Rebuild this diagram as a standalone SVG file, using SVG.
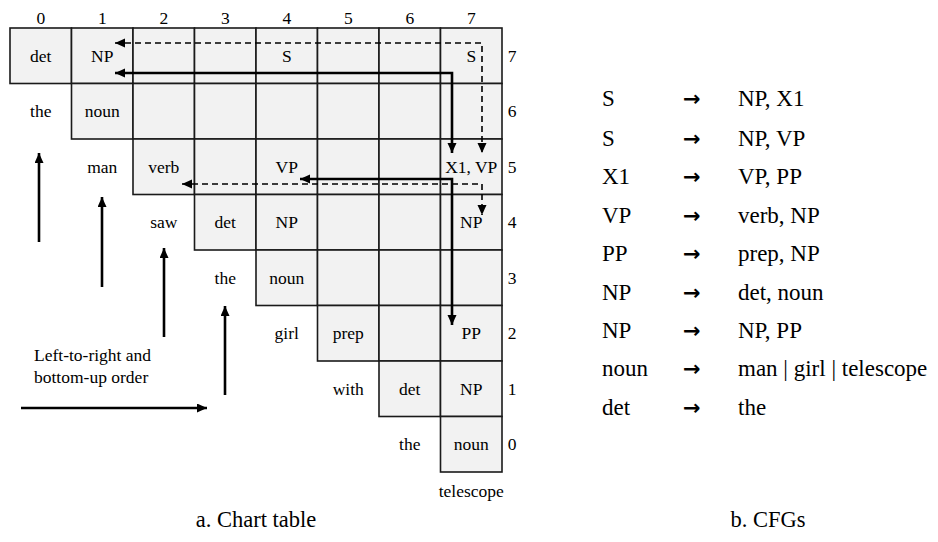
<svg xmlns="http://www.w3.org/2000/svg" width="938" height="542" viewBox="0 0 938 542">
  <style>
    .cell { fill: #f2f2f2; stroke: #1a1a1a; stroke-width: 1.6; }
    text { font-family: "Liberation Serif", Tinos, "DejaVu Serif", serif; fill: #000; }
    .t { font-size: 17.5px; text-anchor: middle; }
    .tl { font-size: 17.5px; }
    .rule { font-size: 23px; }
    .arr { font-family: "DejaVu Sans", sans-serif; font-size: 21px; font-weight: bold; }
    .cap { font-size: 22.5px; text-anchor: middle; }
    .solid { fill: none; stroke: #000; stroke-width: 2.6; }
    .dash { fill: none; stroke: #000; stroke-width: 1.6; stroke-dasharray: 6 4; }
  </style>
  <defs>
    <marker id="head" markerUnits="userSpaceOnUse" markerWidth="11" markerHeight="10" refX="10" refY="4.5" orient="auto-start-reverse">
      <path d="M0,0 L10,4.5 L0,9 z" fill="#000"/>
    </marker>
  </defs>
  <rect width="938" height="542" fill="#fff"/>

  <!-- column indices -->
  <g id="col-index">
    <text class="t" x="40.75" y="24">0</text>
    <text class="t" x="102.25" y="24">1</text>
    <text class="t" x="163.75" y="24">2</text>
    <text class="t" x="225.25" y="24">3</text>
    <text class="t" x="286.75" y="24">4</text>
    <text class="t" x="348.25" y="24">5</text>
    <text class="t" x="409.75" y="24">6</text>
    <text class="t" x="471.25" y="24">7</text>
  </g>

  <!-- row indices -->
  <g id="row-index">
    <text class="t" x="512" y="61.75">7</text>
    <text class="t" x="512" y="117.25">6</text>
    <text class="t" x="512" y="172.75">5</text>
    <text class="t" x="512" y="228.25">4</text>
    <text class="t" x="512" y="283.75">3</text>
    <text class="t" x="512" y="339.25">2</text>
    <text class="t" x="512" y="394.75">1</text>
    <text class="t" x="512" y="450.25">0</text>
  </g>

  <!-- chart row 7 -->
  <g id="r7">
    <g id="r7c0"><rect class="cell" x="10" y="28" width="61.5" height="55.5"/><text class="t" x="40.75" y="61.75">det</text></g>
    <g id="r7c1"><rect class="cell" x="71.5" y="28" width="61.5" height="55.5"/><text class="t" x="102.25" y="61.75">NP</text></g>
    <g id="r7c2"><rect class="cell" x="133" y="28" width="61.5" height="55.5"/></g>
    <g id="r7c3"><rect class="cell" x="194.5" y="28" width="61.5" height="55.5"/></g>
    <g id="r7c4"><rect class="cell" x="256" y="28" width="61.5" height="55.5"/><text class="t" x="286.75" y="61.75">S</text></g>
    <g id="r7c5"><rect class="cell" x="317.5" y="28" width="61.5" height="55.5"/></g>
    <g id="r7c6"><rect class="cell" x="379" y="28" width="61.5" height="55.5"/></g>
    <g id="r7c7"><rect class="cell" x="440.5" y="28" width="61.5" height="55.5"/><text class="t" x="471.25" y="61.75">S</text></g>
  </g>

  <!-- chart row 6 -->
  <g id="r6">
    <g id="w-the1"><text class="t" x="40.75" y="117.25">the</text></g>
    <g id="r6c1"><rect class="cell" x="71.5" y="83.5" width="61.5" height="55.5"/><text class="t" x="102.25" y="117.25">noun</text></g>
    <g id="r6c2"><rect class="cell" x="133" y="83.5" width="61.5" height="55.5"/></g>
    <g id="r6c3"><rect class="cell" x="194.5" y="83.5" width="61.5" height="55.5"/></g>
    <g id="r6c4"><rect class="cell" x="256" y="83.5" width="61.5" height="55.5"/></g>
    <g id="r6c5"><rect class="cell" x="317.5" y="83.5" width="61.5" height="55.5"/></g>
    <g id="r6c6"><rect class="cell" x="379" y="83.5" width="61.5" height="55.5"/></g>
    <g id="r6c7"><rect class="cell" x="440.5" y="83.5" width="61.5" height="55.5"/></g>
  </g>

  <!-- chart row 5 -->
  <g id="r5">
    <g id="w-man"><text class="t" x="102.25" y="172.75">man</text></g>
    <g id="r5c2"><rect class="cell" x="133" y="139" width="61.5" height="55.5"/><text class="t" x="163.75" y="172.75">verb</text></g>
    <g id="r5c3"><rect class="cell" x="194.5" y="139" width="61.5" height="55.5"/></g>
    <g id="r5c4"><rect class="cell" x="256" y="139" width="61.5" height="55.5"/><text class="t" x="286.75" y="172.75">VP</text></g>
    <g id="r5c5"><rect class="cell" x="317.5" y="139" width="61.5" height="55.5"/></g>
    <g id="r5c6"><rect class="cell" x="379" y="139" width="61.5" height="55.5"/></g>
    <g id="r5c7"><rect class="cell" x="440.5" y="139" width="61.5" height="55.5"/><text class="t" x="471.25" y="172.75">X1, VP</text></g>
  </g>

  <!-- chart row 4 -->
  <g id="r4">
    <g id="w-saw"><text class="t" x="163.75" y="228.25">saw</text></g>
    <g id="r4c3"><rect class="cell" x="194.5" y="194.5" width="61.5" height="55.5"/><text class="t" x="225.25" y="228.25">det</text></g>
    <g id="r4c4"><rect class="cell" x="256" y="194.5" width="61.5" height="55.5"/><text class="t" x="286.75" y="228.25">NP</text></g>
    <g id="r4c5"><rect class="cell" x="317.5" y="194.5" width="61.5" height="55.5"/></g>
    <g id="r4c6"><rect class="cell" x="379" y="194.5" width="61.5" height="55.5"/></g>
    <g id="r4c7"><rect class="cell" x="440.5" y="194.5" width="61.5" height="55.5"/><text class="t" x="471.25" y="228.25">NP</text></g>
  </g>

  <!-- chart row 3 -->
  <g id="r3">
    <g id="w-the2"><text class="t" x="225.25" y="283.75">the</text></g>
    <g id="r3c4"><rect class="cell" x="256" y="250" width="61.5" height="55.5"/><text class="t" x="286.75" y="283.75">noun</text></g>
    <g id="r3c5"><rect class="cell" x="317.5" y="250" width="61.5" height="55.5"/></g>
    <g id="r3c6"><rect class="cell" x="379" y="250" width="61.5" height="55.5"/></g>
    <g id="r3c7"><rect class="cell" x="440.5" y="250" width="61.5" height="55.5"/></g>
  </g>

  <!-- chart row 2 -->
  <g id="r2">
    <g id="w-girl"><text class="t" x="286.75" y="339.25">girl</text></g>
    <g id="r2c5"><rect class="cell" x="317.5" y="305.5" width="61.5" height="55.5"/><text class="t" x="348.25" y="339.25">prep</text></g>
    <g id="r2c6"><rect class="cell" x="379" y="305.5" width="61.5" height="55.5"/></g>
    <g id="r2c7"><rect class="cell" x="440.5" y="305.5" width="61.5" height="55.5"/><text class="t" x="471.25" y="339.25">PP</text></g>
  </g>

  <!-- chart row 1 -->
  <g id="r1">
    <g id="w-with"><text class="t" x="348.25" y="394.75">with</text></g>
    <g id="r1c6"><rect class="cell" x="379" y="361" width="61.5" height="55.5"/><text class="t" x="409.75" y="394.75">det</text></g>
    <g id="r1c7"><rect class="cell" x="440.5" y="361" width="61.5" height="55.5"/><text class="t" x="471.25" y="394.75">NP</text></g>
  </g>

  <!-- chart row 0 -->
  <g id="r0">
    <g id="w-the3"><text class="t" x="409.75" y="450.25">the</text></g>
    <g id="r0c7"><rect class="cell" x="440.5" y="416.5" width="61.5" height="55.5"/><text class="t" x="471.25" y="450.25">noun</text></g>
    <g id="w-telescope"><text class="t" x="471.25" y="497">telescope</text></g>
  </g>

  <!-- back-pointers and fill order -->
  <g id="connectors">
    <path class="dash" d="M115,43 H482 V153" marker-start="url(#head)" marker-end="url(#head)"/>
    <path class="solid" d="M115,73 H452 V153" marker-start="url(#head)" marker-end="url(#head)"/>
    <path class="dash" d="M182,184 H482 V215" marker-start="url(#head)" marker-end="url(#head)"/>
    <path class="solid" d="M300,179 H452 V325" marker-start="url(#head)" marker-end="url(#head)"/>
    <path class="solid" d="M39,242 V153" marker-end="url(#head)"/>
    <path class="solid" d="M102,287 V197" marker-end="url(#head)"/>
    <path class="solid" d="M164,337 V248" marker-end="url(#head)"/>
    <path class="solid" d="M225,395 V306" marker-end="url(#head)"/>
    <path class="solid" d="M21,408 H207" marker-end="url(#head)"/>
  </g>

  <g id="order-note">
    <text class="tl" x="34" y="361">Left-to-right and</text>
    <text class="tl" x="34" y="383">bottom-up order</text>
  </g>

  <!-- grammar rules -->
  <g id="cfg">
    <g id="rule1"><text class="rule" x="602" y="106">S</text><text class="arr" x="683" y="106">→</text><text class="rule" x="738" y="106">NP, X1</text></g>
    <g id="rule2"><text class="rule" x="602" y="146">S</text><text class="arr" x="683" y="146">→</text><text class="rule" x="738" y="146">NP, VP</text></g>
    <g id="rule3"><text class="rule" x="602" y="184">X1</text><text class="arr" x="683" y="184">→</text><text class="rule" x="738" y="184">VP, PP</text></g>
    <g id="rule4"><text class="rule" x="602" y="223">VP</text><text class="arr" x="683" y="223">→</text><text class="rule" x="738" y="223">verb, NP</text></g>
    <g id="rule5"><text class="rule" x="602" y="261">PP</text><text class="arr" x="683" y="261">→</text><text class="rule" x="738" y="261">prep, NP</text></g>
    <g id="rule6"><text class="rule" x="602" y="300">NP</text><text class="arr" x="683" y="300">→</text><text class="rule" x="738" y="300">det, noun</text></g>
    <g id="rule7"><text class="rule" x="602" y="338">NP</text><text class="arr" x="683" y="338">→</text><text class="rule" x="738" y="338">NP, PP</text></g>
    <g id="rule8"><text class="rule" x="602" y="376">noun</text><text class="arr" x="683" y="376">→</text><text class="rule" x="738" y="376">man | girl | telescope</text></g>
    <g id="rule9"><text class="rule" x="602" y="415">det</text><text class="arr" x="683" y="415">→</text><text class="rule" x="738" y="415">the</text></g>
  </g>

  <g id="captions">
    <text class="cap" x="256" y="527">a. Chart table</text>
    <text class="cap" x="768" y="527">b. CFGs</text>
  </g>
</svg>
